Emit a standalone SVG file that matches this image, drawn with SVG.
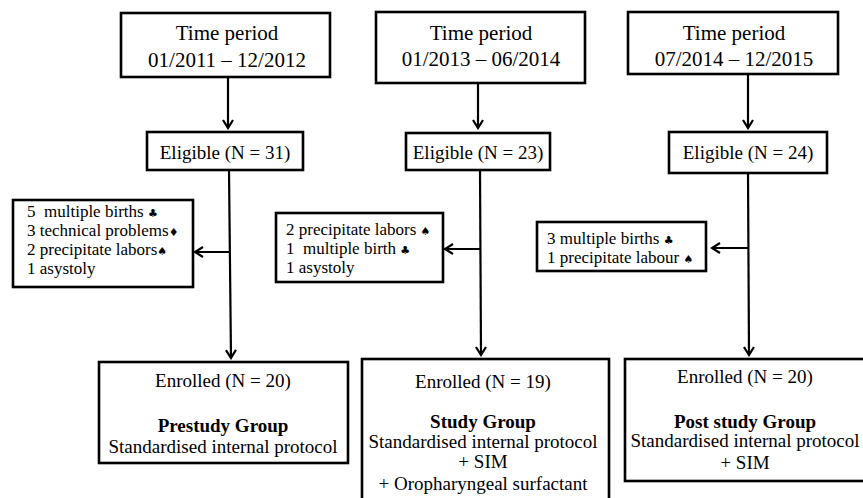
<svg xmlns="http://www.w3.org/2000/svg" width="863" height="498" viewBox="0 0 863 498">
<style>
.box{fill:#fff;stroke:#000;stroke-width:2.6}
.ln{fill:none;stroke:#000;stroke-width:2.2}
text{font-family:"Liberation Serif","Times New Roman",serif;fill:#000}
.t21{font-size:21px;text-anchor:middle}
.t19{font-size:19px;text-anchor:middle}
.t17{font-size:17px}
.b{font-weight:bold}
.sym{font-family:"DejaVu Sans",sans-serif;font-size:11px}
</style>
<defs>
<marker id="ah" viewBox="0 0 12 12" refX="10" refY="6" markerWidth="12" markerHeight="12" markerUnits="userSpaceOnUse" orient="auto">
<path d="M2,1 L10,6 L2,11" fill="none" stroke="#000" stroke-width="2.2"/>
</marker>
</defs>
<g id="connectors">
<line class="ln" x1="228" y1="77" x2="228" y2="128" marker-end="url(#ah)"/>
<line class="ln" x1="478" y1="83" x2="478" y2="128" marker-end="url(#ah)"/>
<line class="ln" x1="748" y1="74" x2="748" y2="128" marker-end="url(#ah)"/>
<line class="ln" x1="229" y1="170" x2="231" y2="358" marker-end="url(#ah)"/>
<line class="ln" x1="480" y1="170" x2="481" y2="355" marker-end="url(#ah)"/>
<line class="ln" x1="748" y1="173" x2="749" y2="355" marker-end="url(#ah)"/>
<line class="ln" x1="229" y1="252" x2="195" y2="252" marker-end="url(#ah)"/>
<line class="ln" x1="480" y1="249" x2="445" y2="249" marker-end="url(#ah)"/>
<line class="ln" x1="748" y1="248" x2="712" y2="248" marker-end="url(#ah)"/>
</g>
<g id="time1">
<rect class="box" x="121" y="13" width="209" height="64"/>
<text class="t21" x="227" y="40">Time period</text>
<text class="t21" x="227" y="67">01/2011 – 12/2012</text>
</g>
<g id="time2">
<rect class="box" x="376" y="12" width="209" height="71"/>
<text class="t21" x="481" y="40">Time period</text>
<text class="t21" x="481" y="66">01/2013 – 06/2014</text>
</g>
<g id="time3">
<rect class="box" x="628" y="12" width="210" height="62"/>
<text class="t21" x="734" y="40">Time period</text>
<text class="t21" x="734" y="66">07/2014 – 12/2015</text>
</g>
<g id="elig1">
<rect class="box" x="147" y="132" width="156" height="38"/>
<text class="t19" x="225" y="159">Eligible (N = 31)</text>
</g>
<g id="elig2">
<rect class="box" x="406" y="133" width="144" height="37"/>
<text class="t19" x="478" y="159">Eligible (N = 23)</text>
</g>
<g id="elig3">
<rect class="box" x="669" y="132" width="158" height="41"/>
<text class="t19" x="748" y="159">Eligible (N = 24)</text>
</g>
<g id="excl1">
<rect class="box" x="13" y="200" width="180" height="87"/>
<text class="t17" x="27" y="217">5 &#160;multiple births <tspan class="sym">♣</tspan></text>
<text class="t17" x="27" y="236">3 technical problems<tspan class="sym">♦</tspan></text>
<text class="t17" x="27" y="255">2 precipitate labors<tspan class="sym">♠</tspan></text>
<text class="t17" x="27" y="274">1 asystoly</text>
</g>
<g id="excl2">
<rect class="box" x="276" y="213" width="167" height="69"/>
<text class="t17" x="286" y="235">2 precipitate labors <tspan class="sym">♠</tspan></text>
<text class="t17" x="286" y="254">1 &#160;multiple birth <tspan class="sym">♣</tspan></text>
<text class="t17" x="286" y="273">1 asystoly</text>
</g>
<g id="excl3">
<rect class="box" x="537" y="222" width="169" height="49"/>
<text class="t17" x="547" y="244">3 multiple births <tspan class="sym">♣</tspan></text>
<text class="t17" x="547" y="263">1 precipitate labour <tspan class="sym">♠</tspan></text>
</g>
<g id="enr1">
<rect class="box" x="99" y="362" width="249" height="101"/>
<text class="t19" x="223" y="387">Enrolled (N = 20)</text>
<text class="t19 b" x="223" y="432">Prestudy Group</text>
<text class="t19" x="223" y="453">Standardised internal protocol</text>
</g>
<g id="enr2">
<rect class="box" x="362" y="359" width="247" height="150"/>
<text class="t19" x="483" y="388">Enrolled (N = 19)</text>
<text class="t19 b" x="483" y="428">Study Group</text>
<text class="t19" x="483" y="448">Standardised internal protocol</text>
<text class="t19" x="483" y="468">+ SIM</text>
<text class="t19" x="483" y="490">+ Oropharyngeal surfactant</text>
</g>
<g id="enr3">
<rect class="box" x="625" y="359" width="242" height="122"/>
<text class="t19" x="745" y="383">Enrolled (N = 20)</text>
<text class="t19 b" x="745" y="428">Post study Group</text>
<text class="t19" x="745" y="447">Standardised internal protocol</text>
<text class="t19" x="745" y="469">+ SIM</text>
</g>
</svg>
